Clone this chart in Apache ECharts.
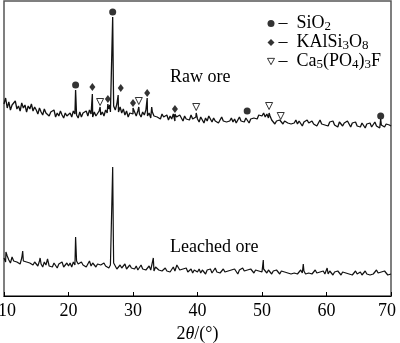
<!DOCTYPE html>
<html><head><meta charset="utf-8">
<script src="https://cdn.jsdelivr.net/npm/echarts@6/dist/echarts.min.js"></script>
<style>html,body{margin:0;padding:0;background:#fff}#c{width:400px;height:343px}</style>
</head><body><div id="c"></div>
<script>
// x sampling grid: start 10°, step 0.25°
const X0 = 10, STEP = 0.25;
const xTicks = [10, 20, 30, 40, 50, 60, 70];
// Raw ore baseline intensities (arbitrary units)
const rawBase = [
192,198,188,194,186,191,189,195,187,190,185,193,188,191,184,190,187,192,185,189,
186,182,188,184,181,187,183,185,180,184,182,186,179,183,180,185,181,178,183,180,
180,183,179,185,182,181,178,184,179,183,181,185,180,186,182,179,184,180,182,185,
181,184,180,186,183,187,184,185,190,186,192,184,189,183,187,181,185,179,183,181,
182,184,180,185,182,179,184,181,186,180,183,178,184,180,182,179,181,177,182,179,
178,181,176,180,177,182,175,179,177,181,178,175,180,177,179,176,181,177,175,179,
177,174,179,176,173,178,175,180,177,174,178,175,177,173,176,179,175,177,174,176,
175,178,174,177,173,176,179,175,177,174,178,176,173,177,175,178,180,177,181,179,
180,183,179,182,178,180,176,174,172,175,173,176,174,172,175,177,173,175,172,174,
173,176,172,175,173,170,174,172,176,173,171,175,172,174,170,173,176,172,174,171,
173,170,174,172,175,171,173,169,174,172,170,173,171,175,172,169,173,171,174,170,
172,169,173,171,168,172,170,173,169,171,174,170,172,168,171,173,169,172,170,171,170
];
const rawPeaks = [[21.1,206],[23.7,202],[24.9,189],[26.1,192],[26.4,191],[26.85,279],[26.95,215],[27.7,201],[30.0,188],[30.9,189],[32.2,198],[32.9,189],[36.5,182],[39.8,183],[47.7,180],[51.1,183],[52.9,177],[68.4,177]];
// Leached ore baseline intensities
const leachBase = [
38,34,40,36,33,39,35,37,34,36,32,38,35,35,34,36,33,35,31,34,
33,30,35,32,29,34,31,37,30,32,29,33,31,28,32,30,34,29,31,33,
30,33,29,34,31,35,32,30,34,31,33,29,32,35,30,33,31,29,32,34,
31,29,33,30,32,28,31,29,33,30,27,29,31,28,30,32,27,29,31,28,
29,27,30,26,28,31,27,29,26,28,30,26,28,25,29,27,26,28,25,27,
28,25,27,24,26,29,25,27,30,26,24,27,25,28,24,26,27,23,26,25,
24,27,23,26,25,22,26,24,27,23,25,28,24,26,23,25,27,24,26,25,
23,26,24,27,25,22,26,24,28,25,23,26,24,27,25,23,26,24,25,27,
24,27,25,23,26,24,22,25,23,26,24,22,25,23,24,26,23,25,22,24,
23,25,22,24,26,23,25,22,24,23,25,22,24,26,23,22,24,23,25,22,
24,22,25,23,21,24,22,25,23,21,24,22,23,25,22,24,21,23,25,22,
22,24,21,23,25,22,24,21,23,22,24,26,23,21,24,22,25,23,21,22,22
];
const leachPeaks = [[10.3,44],[12.9,45],[15.6,38],[21.1,59],[26.85,129],[26.95,60],[33.15,38],[36.8,31],[50.2,36],[56.4,32],[60.1,28]];
// phase markers
const sio2Marks = [[21.1,211],[26.85,284],[47.7,185],[68.4,180]];
const kalMarks = [[23.7,209],[26.1,197],[28.1,208],[30.0,193],[32.2,203],[36.5,187]];
const apaMarks = [[24.9,194],[30.9,195],[39.8,189],[51.1,190],[52.9,180]];
const legendNames = ['SiO2', 'KAlSi3O8', 'Ca5(PO4)3F'];
const legendRich = {
  'SiO2': '–  SiO{s|2}',
  'KAlSi3O8': '–  KAlSi{s|3}O{s|8}',
  'Ca5(PO4)3F': '–  Ca{s|5}(PO{s|4}){s|3}F'
};

function build(base, peaks) {
  const pts = base.map((v, i) => [X0 + i * STEP, v]);
  peaks.forEach(p => pts.push(p));
  pts.sort((a, b) => a[0] - b[0]);
  return pts;
}
const FONT = '"Liberation Serif","Times New Roman",serif';
const chart = echarts.init(document.getElementById('c'));
chart.setOption({
  animation: false,
  grid: {left: 4, right: 9, top: 1, bottom: 47, show: true, borderColor: '#555', borderWidth: 1.5, outerBoundsMode: 'none', containLabel: false},
  xAxis: {
    type: 'value', min: 10, max: 70, interval: 10,
    name: '2{i|θ}/(°)', nameLocation: 'middle', nameGap: 25,
    nameTextStyle: {fontFamily: FONT, fontSize: 18, color: '#000', rich: {i: {fontFamily: FONT, fontSize: 18, fontStyle: 'italic', color: '#000'}}},
    axisLine: {show: true, lineStyle: {color: '#000', width: 1}},
    axisTick: {show: true, inside: true, length: 4, lineStyle: {color: '#000'}},
    axisLabel: {fontFamily: FONT, fontSize: 18, color: '#000', margin: 6, showMinLabel: true, showMaxLabel: true,
      formatter: v => v === 10 ? '{a|10}' : (v === 70 ? '{b|70}' : String(v)),
      rich: {a: {fontFamily: FONT, fontSize: 18, color: '#000', padding: [0, 0, 0, 6]},
             b: {fontFamily: FONT, fontSize: 18, color: '#000', padding: [0, 8, 0, 0]}}},
    splitLine: {show: false}
  },
  yAxis: {type: 'value', min: 0, max: 295, show: false},
  legend: {
    data: [
      {name: 'SiO2'},
      {name: 'KAlSi3O8'},
      {name: 'Ca5(PO4)3F', icon: 'path://M0,0L10,0L5,9Z', itemStyle: {color: '#fff', borderColor: '#000', borderWidth: 1}}
    ],
    orient: 'vertical', left: 262, top: 9, itemWidth: 7, itemHeight: 7, itemGap: 0,
    selectedMode: false,
    formatter: n => legendRich[n],
    textStyle: {fontFamily: FONT, fontSize: 18, color: '#000', lineHeight: 19, padding: [0,0,0,-1],
      rich: {s: {fontFamily: FONT, fontSize: 13, color: '#000', lineHeight: 8, verticalAlign: 'bottom'}}}
  },
  series: [
    {type: 'line', data: build(rawBase, rawPeaks), showSymbol: false, lineStyle: {color: '#111', width: 1.3}, z: 2},
    {type: 'line', data: build(leachBase, leachPeaks), showSymbol: false, lineStyle: {color: '#111', width: 1.2}, z: 2},
    {name: 'SiO2', type: 'scatter', data: sio2Marks, symbol: 'circle', symbolSize: 7, itemStyle: {color: '#000'}, z: 5},
    {name: 'KAlSi3O8', type: 'scatter', data: kalMarks, symbol: 'diamond', symbolSize: [6, 8], itemStyle: {color: '#000'}, z: 5},
    {name: 'Ca5(PO4)3F', type: 'scatter', data: apaMarks, symbol: 'triangle', symbolRotate: 180, symbolSize: 7, itemStyle: {color: '#fff', borderColor: '#000', borderWidth: 1}, z: 5}
  ],
  graphic: [
    {type: 'text', left: 170, top: 68, style: {text: 'Raw ore', font: '18px ' + FONT, fill: '#000'}},
    {type: 'text', left: 170, top: 238, style: {text: 'Leached ore', font: '18px ' + FONT, fill: '#000'}}
  ]
});
</script></body></html>
